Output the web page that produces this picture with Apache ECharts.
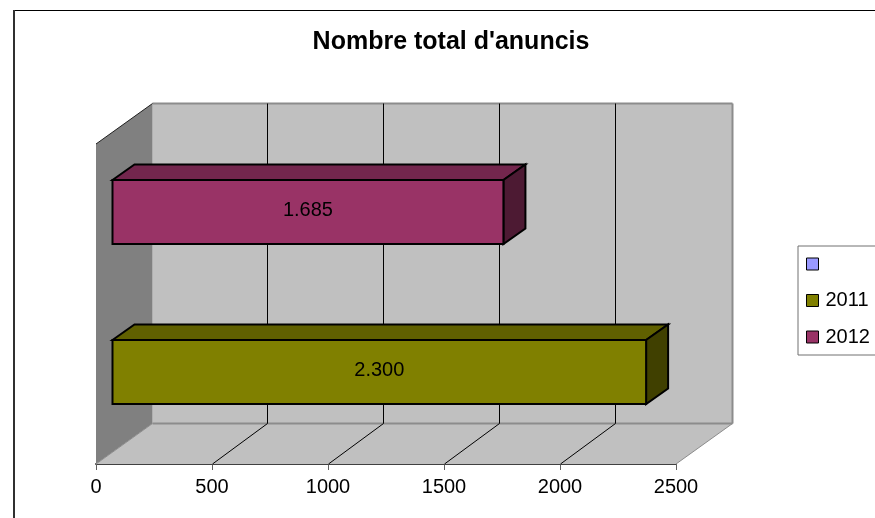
<!DOCTYPE html>
<html>
<head>
<meta charset="utf-8">
<style>
  html, body { margin: 0; padding: 0; background: #fff; }
  #chart { width: 875px; height: 518px; }
</style>
<script src="https://cdn.jsdelivr.net/npm/echarts@6/dist/echarts.min.js"></script>
</head>
<body>
<div id="chart"></div>
<script>
// Chart content
const chartTitle = "Nombre total d'anuncis";
const categories = ['2011', '2012'];
const seriesNames = [' ', '2011', '2012'];
const values2011 = [2300, null];
const values2012 = [null, 1685];
const xTicks = [0, 500, 1000, 1500, 2000, 2500];

// Colours of each series: front, top and side faces of a bar
const faces = {
  ' ': ['#9999FF', '#7373BF', '#4D4D80'],
  '2011': ['#808000', '#606000', '#404000'],
  '2012': ['#993366', '#73264D', '#4D1A33']
};

// Pseudo-3D projection, in pixels
const WALL_DX = 56.5, WALL_DY = 40.5;   // depth of the chart box
const GRID_DX = 54.8;                   // depth of the inner grid lines
const BAR_INSET_X = 16.5, BAR_INSET_Y = 12; // bar front plane behind the axis plane
const BAR_DX = 22, BAR_DY = 15.5;       // depth of a bar
const BAR_BAND = 0.4;                   // bar thickness relative to its band
const VALUE_LIFT = 2;                   // value text sits slightly above the bar centre

const LABEL_FONT = 20;

const thousands = v => String(v).replace(/\B(?=(\d{3})+$)/g, '.');

function poly(points, fill, stroke, width) {
  return {
    type: 'polygon',
    shape: { points },
    style: { fill, stroke: stroke || null, lineWidth: width || 0, lineJoin: 'miter' }
  };
}

function seg(x1, y1, x2, y2, stroke, width) {
  return {
    type: 'line',
    shape: { x1, y1, x2, y2 },
    style: { stroke, lineWidth: width || 1 }
  };
}

// Walls and floor of the box, spanned over the cartesian grid
function renderBox(params) {
  const c = params.coordSys;
  const l = c.x, r = c.x + c.width, t = c.y, b = c.y + c.height;
  const edge = '#8C8C8C';
  return {
    type: 'group',
    children: [
      poly([[l + WALL_DX, t - WALL_DY], [r + WALL_DX, t - WALL_DY], [r + WALL_DX, b - WALL_DY], [l + WALL_DX, b - WALL_DY]], '#C0C0C0'),
      poly([[l, t], [l + WALL_DX, t - WALL_DY], [l + WALL_DX, b - WALL_DY], [l, b]], '#808080'),
      poly([[l, b], [l + WALL_DX, b - WALL_DY], [r + WALL_DX, b - WALL_DY], [r, b]], '#C0C0C0'),
      seg(l + WALL_DX, t - WALL_DY, r + WALL_DX, t - WALL_DY, edge, 2),
      seg(r + WALL_DX, t - WALL_DY, r + WALL_DX, b - WALL_DY, edge, 2),
      seg(l + WALL_DX, b - WALL_DY, r + WALL_DX, b - WALL_DY, edge, 2),
      seg(r, b, r + WALL_DX, b - WALL_DY, edge, 1),
      seg(l, b, l + WALL_DX, b - WALL_DY, edge, 1),
      seg(l, t, l + WALL_DX, t - WALL_DY, '#202020', 1)
    ]
  };
}

// Grid line for one tick: across the floor, then up the back wall
function renderGridLine(params, api) {
  const c = params.coordSys;
  const x = Math.round(api.coord([api.value(0), 0])[0]) + 0.5;
  const b = c.y + c.height;
  const bx = Math.round(x + GRID_DX) + 0.5;
  return {
    type: 'group',
    children: [
      seg(x, b, bx, b - WALL_DY, '#000', 1),
      seg(bx, b - WALL_DY, bx, c.y - WALL_DY, '#000', 1)
    ]
  };
}

// One bar drawn as front, top and side faces, with its value in the middle
function renderBar(params, api) {
  const v = api.value(0);
  if (v == null || isNaN(v)) return null;
  const origin = api.coord([0, api.value(1)]);
  const end = api.coord([v, api.value(1)]);
  const h = api.size([0, 1])[1] * BAR_BAND;
  const x0 = origin[0] + BAR_INSET_X, x1 = end[0] + BAR_INSET_X;
  const y0 = origin[1] - BAR_INSET_Y - h / 2, y1 = y0 + h;
  const f = faces[params.seriesName];
  return {
    type: 'group',
    children: [
      poly([[x0, y0], [x0 + BAR_DX, y0 - BAR_DY], [x1 + BAR_DX, y0 - BAR_DY], [x1, y0]], f[1], '#000', 2),
      poly([[x1, y0], [x1 + BAR_DX, y0 - BAR_DY], [x1 + BAR_DX, y1 - BAR_DY], [x1, y1]], f[2], '#000', 2),
      poly([[x0, y0], [x1, y0], [x1, y1], [x0, y1]], f[0], '#000', 2),
      {
        type: 'text',
        style: {
          x: (x0 + x1) / 2,
          y: (y0 + y1) / 2 - VALUE_LIFT,
          text: thousands(v),
          align: 'center',
          verticalAlign: 'middle',
          fill: '#000',
          font: LABEL_FONT + 'px "Liberation Sans"'
        }
      }
    ]
  };
}

function barSeries(name, values) {
  return {
    name,
    type: 'custom',
    renderItem: renderBar,
    z: 5,
    clip: false,
    silent: true,
    itemStyle: { color: faces[name][0] },
    encode: { x: 0, y: 1 },
    data: values
      .map((v, i) => (v == null ? null : [v, i]))
      .filter(Boolean)
  };
}

const chart = echarts.init(document.getElementById('chart'), null, { renderer: 'canvas' });

chart.setOption({
  animation: false,
  backgroundColor: '#fff',
  textStyle: { fontFamily: '"Liberation Sans"' },
  title: {
    text: chartTitle,
    left: 451,
    top: 30,
    padding: 0,
    textAlign: 'center',
    textStyle: { fontSize: 25, fontWeight: 'bold', color: '#000', fontFamily: '"Liberation Sans"' }
  },
  grid: { left: 96, top: 144, width: 580, height: 320 },
  xAxis: {
    type: 'value',
    min: 0,
    max: 2500,
    interval: 500,
    splitLine: { show: false },
    axisLine: { show: true, onZero: false, lineStyle: { color: '#404040', width: 2 } },
    axisTick: { show: true, length: 6, lineStyle: { color: '#606060', width: 1 } },
    axisLabel: {
      color: '#000',
      fontSize: LABEL_FONT,
      margin: 13,
      formatter: v => String(v),
      fontFamily: '"Liberation Sans"'
    }
  },
  yAxis: {
    type: 'category',
    data: categories,
    axisLine: { show: true, lineStyle: { color: '#707070', width: 1 } },
    axisTick: { show: false },
    axisLabel: { show: false },
    splitLine: { show: false }
  },
  legend: {
    left: 798,
    top: 246,
    orient: 'vertical',
    data: seriesNames,
    icon: 'rect',
    itemWidth: 12,
    itemHeight: 12,
    itemGap: 16.5,
    padding: [8, 16, 8, 8],
    backgroundColor: '#fff',
    borderColor: '#707070',
    borderWidth: 1,
    borderRadius: 0,
    selectedMode: false,
    itemStyle: { borderColor: '#000', borderWidth: 1 },
    textStyle: { color: '#000', fontSize: LABEL_FONT, padding: [0, 0, 0, 2], fontFamily: '"Liberation Sans"' }
  },
  series: [
    {
      type: 'custom',
      renderItem: renderBox,
      z: 1,
      clip: false,
      silent: true,
      data: [[0, 0]],
      encode: { x: 0, y: 1 }
    },
    {
      type: 'custom',
      renderItem: renderGridLine,
      z: 2,
      clip: false,
      silent: true,
      data: xTicks.slice(1, -1).map(t => [t, 0]),
      encode: { x: 0, y: 1 }
    },
    barSeries(seriesNames[0], [null, null]),
    barSeries(seriesNames[1], values2011),
    barSeries(seriesNames[2], values2012)
  ],
  graphic: [
    // Outer chart frame: only its top and left sides fall inside the window
    { type: 'line', silent: true, z: 10, shape: { x1: 13, y1: 10.5, x2: 875, y2: 10.5 }, style: { stroke: '#000', lineWidth: 1 } },
    { type: 'line', silent: true, z: 10, shape: { x1: 14, y1: 10, x2: 14, y2: 518 }, style: { stroke: '#303030', lineWidth: 2 } }
  ]
});
</script>
</body>
</html>
